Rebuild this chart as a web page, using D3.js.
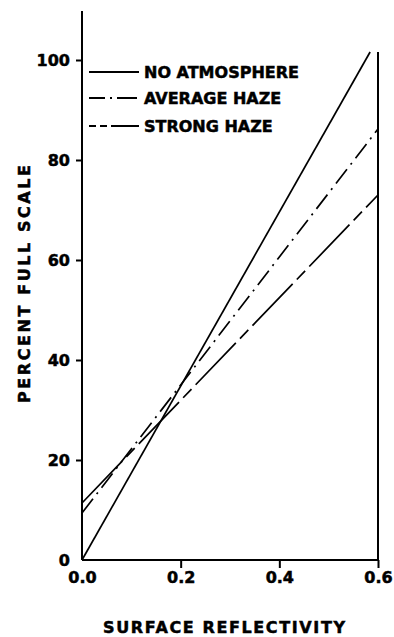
<!DOCTYPE html>
<html>
<head>
<meta charset="utf-8">
<script src="https://cdn.jsdelivr.net/npm/d3@7"></script>
<style>
  body { margin: 0; background: #fff; }
  svg { display: block; }
  text { font-family: "DejaVu Sans", sans-serif; font-weight: bold; fill: #000; stroke: #000; stroke-width: 0.5px; }
</style>
</head>
<body>
<svg id="chart"></svg>
<script>
// data
const seriesNames = ["NO ATMOSPHERE", "AVERAGE HAZE", "STRONG HAZE"];
const noAtmosphere = [[0, 0], [0.584, 101.6]];
const averageHaze = [[0, 9.4], [0.6, 86.2]];
const strongHaze = [[0, 11.4], [0.6, 73]];
const xTicks = [0, 0.2, 0.4, 0.6];
const xTickLabels = ["0.0", "0.2", "0.4", "0.6"];
const yTicks = [0, 20, 40, 60, 80, 100];

const width = 394, height = 637;
const svg = d3.select("#chart").attr("width", width).attr("height", height);

const x = d3.scaleLinear().domain([0, 0.6]).range([82, 378]);
const y = d3.scaleLinear().domain([0, 100]).range([560, 60]);

// y axis (left), runs a bit above 100
svg.append("line")
  .attr("x1", x(0)).attr("x2", x(0))
  .attr("y1", y(0)).attr("y2", y(109.8))
  .attr("stroke", "#000").attr("stroke-width", 2);

const yAxis = svg.append("g").attr("transform", "translate(" + x(0) + ",0)")
  .call(d3.axisLeft(y).tickValues(yTicks).tickSize(6).tickPadding(6).tickFormat(d3.format("d")));
yAxis.select(".domain").remove();
yAxis.selectAll(".tick line").attr("stroke-width", 2);
yAxis.selectAll(".tick").filter(d => d === 0).select("line").remove();
yAxis.selectAll("text").style("font-size", "16px").style("font-family", "DejaVu Sans").style("font-weight", "bold");

// x axis (bottom)
const xAxis = svg.append("g").attr("transform", "translate(0," + y(0) + ")")
  .call(d3.axisBottom(x).tickValues(xTicks).tickSize(8).tickPadding(4)
    .tickFormat((d, i) => xTickLabels[i]));
xAxis.select(".domain").attr("stroke-width", 2).attr("d", "M" + x(0) + ",0H" + x(0.6));
xAxis.selectAll(".tick line").attr("stroke-width", 2);
xAxis.selectAll(".tick").filter(d => d === 0).select("line").remove();
xAxis.selectAll("text").style("font-size", "16px").style("font-family", "DejaVu Sans").style("font-weight", "bold");

// right frame edge
svg.append("line")
  .attr("x1", x(0.6)).attr("x2", x(0.6))
  .attr("y1", y(0)).attr("y2", y(101.6))
  .attr("stroke", "#000").attr("stroke-width", 2);

const line = d3.line().x(d => x(d[0])).y(d => y(d[1]));

const series = [
  { name: seriesNames[0], values: noAtmosphere, dash: null, legendDash: null },
  { name: seriesNames[1], values: averageHaze, dash: "18,6,2,6", legendDash: "16,5,2,5,20" },
  { name: seriesNames[2], values: strongHaze, dash: "58,6,12,6", legendDash: "7,4,7,4,30" }
];

svg.append("g").selectAll("path")
  .data(series)
  .enter().append("path")
  .attr("d", d => line(d.values))
  .attr("fill", "none")
  .attr("stroke", "#000")
  .attr("stroke-width", 1.7)
  .attr("stroke-dasharray", d => d.dash);

// legend
const legendY = [72, 98, 126];
const legend = svg.append("g").selectAll("g")
  .data(series)
  .enter().append("g")
  .attr("transform", (d, i) => "translate(0," + legendY[i] + ")");

legend.append("line")
  .attr("x1", 89).attr("x2", 139)
  .attr("stroke", "#000").attr("stroke-width", 1.8)
  .attr("stroke-dasharray", d => d.legendDash);

legend.append("text")
  .attr("x", 144)
  .attr("dy", "0.36em")
  .style("font-size", "16px")
  .text(d => d.name);

// axis titles
svg.append("text")
  .attr("x", 224).attr("y", 633)
  .attr("text-anchor", "middle")
  .attr("textLength", 242).attr("lengthAdjust", "spacing")
  .style("font-size", "16px")
  .text("SURFACE  REFLECTIVITY");

svg.append("text")
  .attr("transform", "translate(30,284) rotate(-90)")
  .attr("text-anchor", "middle")
  .attr("textLength", 238).attr("lengthAdjust", "spacing")
  .style("font-size", "16px")
  .text("PERCENT  FULL  SCALE");
</script>
</body>
</html>
